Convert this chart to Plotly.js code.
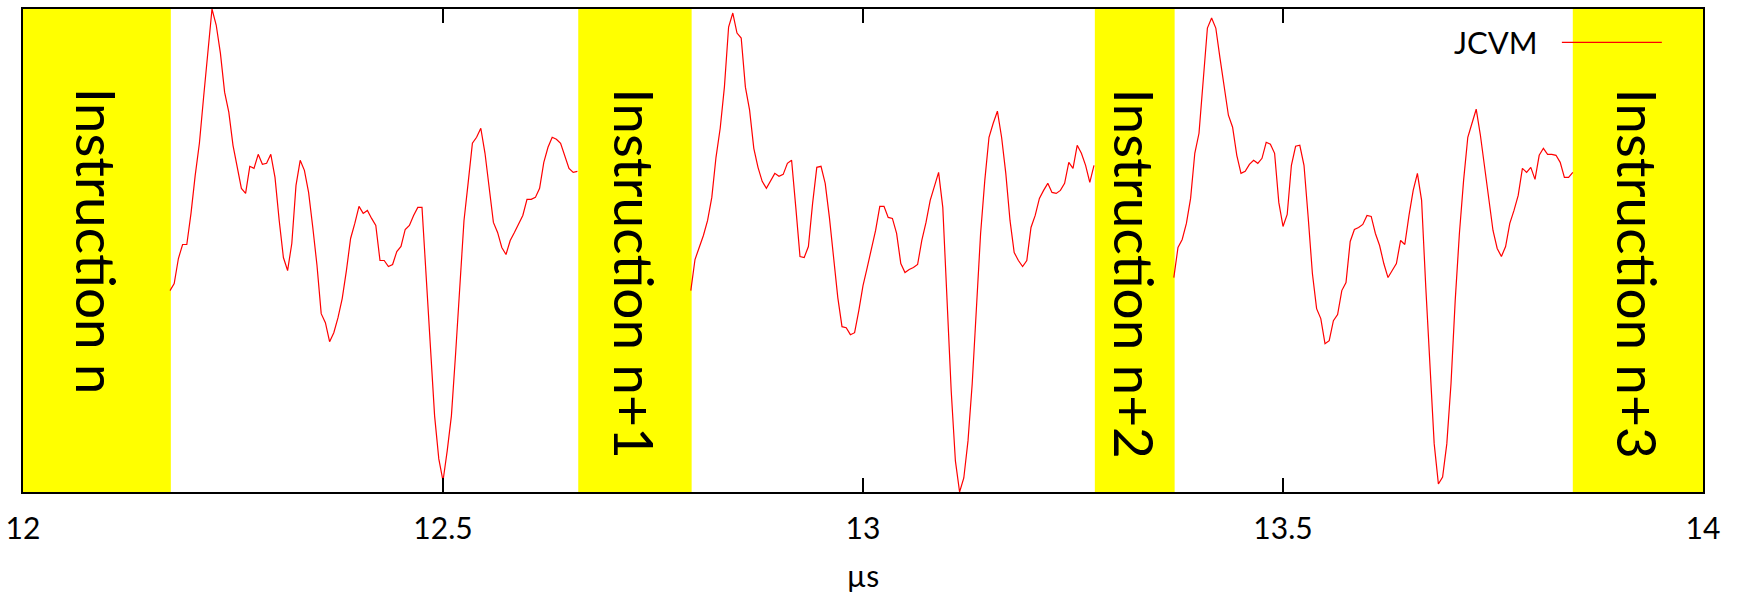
<!DOCTYPE html>
<html>
<head>
<meta charset="utf-8">
<script src="https://cdn.plot.ly/plotly-3.0.1.min.js"></script>
<style>html,body{margin:0;padding:0;background:#fff;}#chart{width:1740px;height:600px;}</style>
</head>
<body>
<div id="chart"></div>
<script>
// Sampling of the trace (µs)
const sampleStep = 0.005;
const segmentStarts = [12.175, 12.795, 13.37];

// Trace amplitude (arbitrary units) for each visible segment
const segment1 = [201,208,233,247,247,278,316,348,394,438,482,466,438,399,379,346,324,303,298,325,
  323,337,327,328,337,314,271,234,221,248,306,331,321,299,264,226,178,169,150,159,
  174,193,221,253,268,285,278,281,273,266,231,231,225,227,240,245,262,266,276,284,
  284,214,144,76,33,11,41,76,138,201,271,309,348,354,363,338,301,269,259,244,
  237,251,259,268,276,292,292,294,303,329,344,354,352,348,336,323,319,320];
const segment2 = [201,232,244,256,271,294,334,363,404,464,478,458,453,404,381,343,324,310,303,311,
  318,315,317,328,331,284,235,234,245,288,324,325,308,274,231,194,165,164,157,159,
  181,206,224,241,261,285,285,274,273,258,228,219,222,224,227,251,269,291,304,319,
  284,191,101,31,0,14,51,108,181,258,311,354,368,380,354,318,271,239,231,225,
  231,264,276,293,301,308,299,298,301,308,329,323,346,338,326,309,326];
const segment3 = [214,244,252,268,293,338,358,413,463,473,463,433,403,376,364,336,318,320,327,331,
  328,333,349,347,338,289,265,277,326,345,346,326,274,218,183,173,148,151,171,177,
  201,209,250,262,264,267,276,275,258,246,228,214,221,228,251,247,276,301,318,291,
  204,121,48,8,15,48,108,191,258,311,354,368,382,356,324,291,261,243,235,245,
  268,281,296,323,319,324,312,336,343,337,337,336,329,314,314,319];

// Instruction windows (µs)
const bandStarts = [12, 12.661, 13.276, 13.845];
const bandEnds = [12.176, 12.796, 13.371, 14];
const bandLabels = ["Instruction n", "Instruction n+1", "Instruction n+2", "Instruction n+3"];

const tickValues = [12, 12.5, 13, 13.5, 14];
const tickLabels = ["12", "12.5", "13", "13.5", "14"];
const seriesName = "JCVM";
const xTitle = "µs";

// Build one trace with gaps between segments
const xs = [], ys = [];
[segment1, segment2, segment3].forEach((seg, si) => {
  seg.forEach((v, i) => {
    xs.push(+(segmentStarts[si] + i * sampleStep).toFixed(4));
    ys.push(v);
  });
  xs.push(null); ys.push(null);
});

const FONT = "Lato, 'Open Sans', sans-serif";

const shapes = bandStarts.map((s, i) => ({
  type: 'rect', xref: 'x', yref: 'paper', x0: s, x1: bandEnds[i], y0: 0, y1: 1,
  fillcolor: '#ffff00', line: {width: 0}, layer: 'below'
}));
// legend key line
shapes.push({type: 'line', xref: 'paper', yref: 'paper', x0: 0.916, x1: 0.9755, y0: 0.931, y1: 0.931,
  line: {color: '#ff0000', width: 1.2}, layer: 'above'});

const annotations = bandLabels.map((t, i) => ({
  text: t, x: (bandStarts[i] + bandEnds[i]) / 2, xref: 'x', y: 0.84, yref: 'paper',
  xanchor: 'center', yanchor: 'top', textangle: 90, showarrow: false,
  font: {family: FONT, size: 55, color: '#000'}
}));
annotations.push({text: seriesName, x: 0.903, xref: 'paper', y: 0.931, yref: 'paper',
  xanchor: 'right', yanchor: 'middle', showarrow: false,
  font: {family: FONT, size: 31, color: '#000'}});

const data = [{
  type: 'scatter', mode: 'lines', name: seriesName, x: xs, y: ys,
  connectgaps: false, line: {color: '#ff0000', width: 1.2}, showlegend: false
}];

const layout = {
  width: 1740, height: 600,
  margin: {l: 23, r: 37, t: 9, b: 108},
  paper_bgcolor: '#fff', plot_bgcolor: '#fff',
  font: {family: FONT, size: 30, color: '#000'},
  showlegend: false,
  xaxis: {
    range: [12, 14], tickvals: tickValues, ticktext: tickLabels,
    ticks: 'inside', ticklen: 14, tickwidth: 2, tickcolor: '#000',
    showline: true, linewidth: 2, linecolor: '#000', mirror: 'ticks',
    showgrid: false, zeroline: false, ticklabelstandoff: 9,
    tickfont: {family: FONT, size: 30, color: '#000'},
    title: {text: xTitle, font: {family: FONT, size: 30, color: '#000'}, standoff: 22}
  },
  yaxis: {
    range: [0, 482], showticklabels: false, ticks: '',
    showline: true, linewidth: 2, linecolor: '#000', mirror: true,
    showgrid: false, zeroline: false
  },
  shapes: shapes,
  annotations: annotations
};

Plotly.newPlot('chart', data, layout, {displayModeBar: false, staticPlot: true});
</script>
</body>
</html>
